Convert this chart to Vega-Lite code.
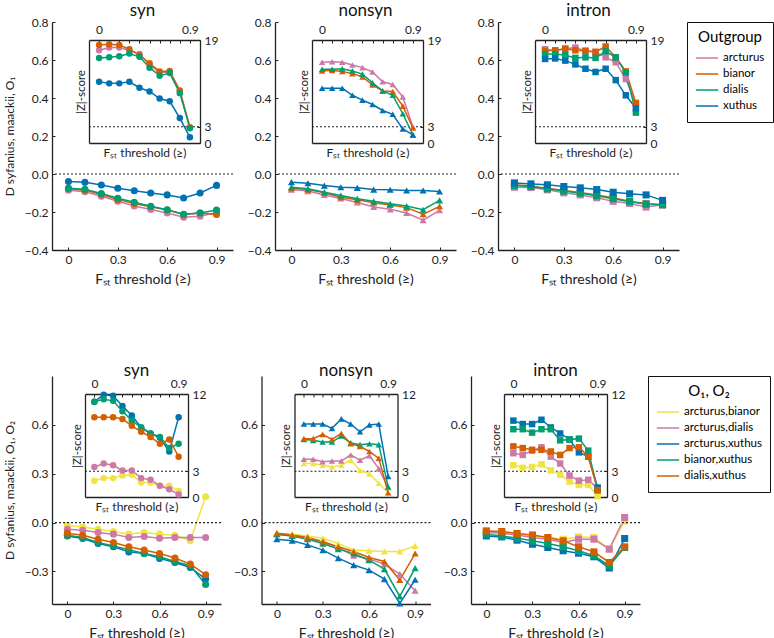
{
"$schema": "https://vega.github.io/schema/vega-lite/v6.json",
"padding": {"left": 3, "top": 2, "right": 1, "bottom": 0},
"datasets": {
"topSyn": [
{"group":"arcturus","threshold":0,"D":-0.085,"Z":17.1},{"group":"arcturus","threshold":0.1,"D":-0.093,"Z":17.6},{"group":"arcturus","threshold":0.2,"D":-0.117,"Z":17.6},{"group":"arcturus","threshold":0.3,"D":-0.143,"Z":17.1},{"group":"arcturus","threshold":0.4,"D":-0.168,"Z":16.4},{"group":"arcturus","threshold":0.5,"D":-0.187,"Z":14.5},{"group":"arcturus","threshold":0.6,"D":-0.205,"Z":13.0},{"group":"arcturus","threshold":0.7,"D":-0.228,"Z":13.1},{"group":"arcturus","threshold":0.8,"D":-0.222,"Z":9.6},{"group":"arcturus","threshold":0.9,"D":-0.203,"Z":2.8},
{"group":"bianor","threshold":0,"D":-0.077,"Z":18.1},{"group":"bianor","threshold":0.1,"D":-0.085,"Z":18.2},{"group":"bianor","threshold":0.2,"D":-0.108,"Z":18.1},{"group":"bianor","threshold":0.3,"D":-0.135,"Z":17.3},{"group":"bianor","threshold":0.4,"D":-0.155,"Z":16.2},{"group":"bianor","threshold":0.5,"D":-0.172,"Z":14.7},{"group":"bianor","threshold":0.6,"D":-0.19,"Z":13.2},{"group":"bianor","threshold":0.7,"D":-0.213,"Z":13.3},{"group":"bianor","threshold":0.8,"D":-0.205,"Z":9.7},{"group":"bianor","threshold":0.9,"D":-0.213,"Z":2.9},
{"group":"dialis","threshold":0,"D":-0.075,"Z":15.7},{"group":"dialis","threshold":0.1,"D":-0.08,"Z":15.8},{"group":"dialis","threshold":0.2,"D":-0.103,"Z":16.0},{"group":"dialis","threshold":0.3,"D":-0.128,"Z":16.5},{"group":"dialis","threshold":0.4,"D":-0.149,"Z":15.9},{"group":"dialis","threshold":0.5,"D":-0.17,"Z":13.9},{"group":"dialis","threshold":0.6,"D":-0.188,"Z":12.4},{"group":"dialis","threshold":0.7,"D":-0.212,"Z":12.9},{"group":"dialis","threshold":0.8,"D":-0.205,"Z":9.2},{"group":"dialis","threshold":0.9,"D":-0.19,"Z":2.7},
{"group":"xuthus","threshold":0,"D":-0.04,"Z":11.3},{"group":"xuthus","threshold":0.1,"D":-0.044,"Z":11.0},{"group":"xuthus","threshold":0.2,"D":-0.058,"Z":11.0},{"group":"xuthus","threshold":0.3,"D":-0.075,"Z":11.3},{"group":"xuthus","threshold":0.4,"D":-0.088,"Z":10.2},{"group":"xuthus","threshold":0.5,"D":-0.1,"Z":9.5},{"group":"xuthus","threshold":0.6,"D":-0.11,"Z":8.2},{"group":"xuthus","threshold":0.7,"D":-0.126,"Z":7.7},{"group":"xuthus","threshold":0.8,"D":-0.1,"Z":4.6},{"group":"xuthus","threshold":0.9,"D":-0.06,"Z":1.05}
],
"topNonsyn": [
{"group":"arcturus","threshold":0,"D":-0.082,"Z":14.9},{"group":"arcturus","threshold":0.1,"D":-0.09,"Z":15.0},{"group":"arcturus","threshold":0.2,"D":-0.11,"Z":14.9},{"group":"arcturus","threshold":0.3,"D":-0.129,"Z":14.4},{"group":"arcturus","threshold":0.4,"D":-0.15,"Z":13.9},{"group":"arcturus","threshold":0.5,"D":-0.174,"Z":13.1},{"group":"arcturus","threshold":0.6,"D":-0.186,"Z":11.3},{"group":"arcturus","threshold":0.7,"D":-0.205,"Z":10.8},{"group":"arcturus","threshold":0.8,"D":-0.243,"Z":8.5},{"group":"arcturus","threshold":0.9,"D":-0.191,"Z":3.0},
{"group":"bianor","threshold":0,"D":-0.075,"Z":13.3},{"group":"bianor","threshold":0.1,"D":-0.082,"Z":13.4},{"group":"bianor","threshold":0.2,"D":-0.099,"Z":13.2},{"group":"bianor","threshold":0.3,"D":-0.122,"Z":12.8},{"group":"bianor","threshold":0.4,"D":-0.136,"Z":12.2},{"group":"bianor","threshold":0.5,"D":-0.151,"Z":10.7},{"group":"bianor","threshold":0.6,"D":-0.163,"Z":9.6},{"group":"bianor","threshold":0.7,"D":-0.177,"Z":9.5},{"group":"bianor","threshold":0.8,"D":-0.212,"Z":6.8},{"group":"bianor","threshold":0.9,"D":-0.17,"Z":2.8},
{"group":"dialis","threshold":0,"D":-0.07,"Z":13.6},{"group":"dialis","threshold":0.1,"D":-0.078,"Z":13.6},{"group":"dialis","threshold":0.2,"D":-0.096,"Z":13.7},{"group":"dialis","threshold":0.3,"D":-0.113,"Z":13.3},{"group":"dialis","threshold":0.4,"D":-0.13,"Z":12.7},{"group":"dialis","threshold":0.5,"D":-0.144,"Z":11.1},{"group":"dialis","threshold":0.6,"D":-0.157,"Z":9.6},{"group":"dialis","threshold":0.7,"D":-0.169,"Z":8.8},{"group":"dialis","threshold":0.8,"D":-0.188,"Z":5.4},{"group":"dialis","threshold":0.9,"D":-0.139,"Z":1.5},
{"group":"xuthus","threshold":0,"D":-0.043,"Z":10.1},{"group":"xuthus","threshold":0.1,"D":-0.049,"Z":10.1},{"group":"xuthus","threshold":0.2,"D":-0.061,"Z":10.1},{"group":"xuthus","threshold":0.3,"D":-0.07,"Z":8.8},{"group":"xuthus","threshold":0.4,"D":-0.073,"Z":7.9},{"group":"xuthus","threshold":0.5,"D":-0.082,"Z":7.1},{"group":"xuthus","threshold":0.6,"D":-0.083,"Z":6.0},{"group":"xuthus","threshold":0.7,"D":-0.087,"Z":5.3},{"group":"xuthus","threshold":0.8,"D":-0.087,"Z":2.6},{"group":"xuthus","threshold":0.9,"D":-0.092,"Z":1.5}
],
"topIntron": [
{"group":"arcturus","threshold":0,"D":-0.07,"Z":17.3},{"group":"arcturus","threshold":0.1,"D":-0.071,"Z":17.0},{"group":"arcturus","threshold":0.2,"D":-0.083,"Z":17.4},{"group":"arcturus","threshold":0.3,"D":-0.099,"Z":17.6},{"group":"arcturus","threshold":0.4,"D":-0.11,"Z":17.0},{"group":"arcturus","threshold":0.5,"D":-0.125,"Z":16.8},{"group":"arcturus","threshold":0.6,"D":-0.144,"Z":15.8},{"group":"arcturus","threshold":0.7,"D":-0.155,"Z":14.9},{"group":"arcturus","threshold":0.8,"D":-0.174,"Z":11.8},{"group":"arcturus","threshold":0.9,"D":-0.162,"Z":7.1},
{"group":"bianor","threshold":0,"D":-0.057,"Z":17.0},{"group":"bianor","threshold":0.1,"D":-0.064,"Z":17.1},{"group":"bianor","threshold":0.2,"D":-0.075,"Z":17.4},{"group":"bianor","threshold":0.3,"D":-0.087,"Z":17.1},{"group":"bianor","threshold":0.4,"D":-0.097,"Z":17.0},{"group":"bianor","threshold":0.5,"D":-0.111,"Z":16.8},{"group":"bianor","threshold":0.6,"D":-0.125,"Z":17.8},{"group":"bianor","threshold":0.7,"D":-0.143,"Z":15.8},{"group":"bianor","threshold":0.8,"D":-0.157,"Z":13.2},{"group":"bianor","threshold":0.9,"D":-0.162,"Z":7.4},
{"group":"dialis","threshold":0,"D":-0.061,"Z":16.4},{"group":"dialis","threshold":0.1,"D":-0.066,"Z":16.4},{"group":"dialis","threshold":0.2,"D":-0.078,"Z":16.2},{"group":"dialis","threshold":0.3,"D":-0.09,"Z":15.7},{"group":"dialis","threshold":0.4,"D":-0.101,"Z":15.8},{"group":"dialis","threshold":0.5,"D":-0.115,"Z":15.7},{"group":"dialis","threshold":0.6,"D":-0.13,"Z":16.9},{"group":"dialis","threshold":0.7,"D":-0.146,"Z":15.8},{"group":"dialis","threshold":0.8,"D":-0.158,"Z":13.0},{"group":"dialis","threshold":0.9,"D":-0.162,"Z":5.6},
{"group":"xuthus","threshold":0,"D":-0.047,"Z":15.5},{"group":"xuthus","threshold":0.1,"D":-0.052,"Z":15.6},{"group":"xuthus","threshold":0.2,"D":-0.057,"Z":15.2},{"group":"xuthus","threshold":0.3,"D":-0.066,"Z":14.5},{"group":"xuthus","threshold":0.4,"D":-0.073,"Z":13.7},{"group":"xuthus","threshold":0.5,"D":-0.082,"Z":13.1},{"group":"xuthus","threshold":0.6,"D":-0.096,"Z":13.7},{"group":"xuthus","threshold":0.7,"D":-0.104,"Z":11.6},{"group":"xuthus","threshold":0.8,"D":-0.11,"Z":8.8},{"group":"xuthus","threshold":0.9,"D":-0.139,"Z":6.4}
],
"botSyn": [
{"group":"arcturus,bianor","threshold":0,"D":-0.016,"Z":1.9},{"group":"arcturus,bianor","threshold":0.1,"D":-0.027,"Z":2.2},{"group":"arcturus,bianor","threshold":0.2,"D":-0.041,"Z":2.2},{"group":"arcturus,bianor","threshold":0.3,"D":-0.055,"Z":2.5},{"group":"arcturus,bianor","threshold":0.4,"D":-0.071,"Z":2.6},{"group":"arcturus,bianor","threshold":0.5,"D":-0.061,"Z":1.7},{"group":"arcturus,bianor","threshold":0.6,"D":-0.071,"Z":1.7},{"group":"arcturus,bianor","threshold":0.7,"D":-0.078,"Z":1.3},{"group":"arcturus,bianor","threshold":0.8,"D":-0.112,"Z":1.3},{"group":"arcturus,bianor","threshold":0.9,"D":0.159,"Z":0.7},
{"group":"arcturus,dialis","threshold":0,"D":-0.041,"Z":3.5},{"group":"arcturus,dialis","threshold":0.1,"D":-0.047,"Z":3.9},{"group":"arcturus,dialis","threshold":0.2,"D":-0.061,"Z":3.7},{"group":"arcturus,dialis","threshold":0.3,"D":-0.071,"Z":3.1},{"group":"arcturus,dialis","threshold":0.4,"D":-0.092,"Z":3.1},{"group":"arcturus,dialis","threshold":0.5,"D":-0.086,"Z":2.2},{"group":"arcturus,dialis","threshold":0.6,"D":-0.096,"Z":2.0},{"group":"arcturus,dialis","threshold":0.7,"D":-0.092,"Z":1.3},{"group":"arcturus,dialis","threshold":0.8,"D":-0.092,"Z":0.9},{"group":"arcturus,dialis","threshold":0.9,"D":-0.092,"Z":0.3},
{"group":"arcturus,xuthus","threshold":0,"D":-0.082,"Z":11.1},{"group":"arcturus,xuthus","threshold":0.1,"D":-0.098,"Z":11.9},{"group":"arcturus,xuthus","threshold":0.2,"D":-0.129,"Z":11.8},{"group":"arcturus,xuthus","threshold":0.3,"D":-0.149,"Z":10.6},{"group":"arcturus,xuthus","threshold":0.4,"D":-0.18,"Z":9.5},{"group":"arcturus,xuthus","threshold":0.5,"D":-0.19,"Z":8.1},{"group":"arcturus,xuthus","threshold":0.6,"D":-0.22,"Z":7.4},{"group":"arcturus,xuthus","threshold":0.7,"D":-0.245,"Z":6.9},{"group":"arcturus,xuthus","threshold":0.8,"D":-0.276,"Z":5.3},{"group":"arcturus,xuthus","threshold":0.9,"D":-0.347,"Z":9.3},
{"group":"bianor,xuthus","threshold":0,"D":-0.078,"Z":11.1},{"group":"bianor,xuthus","threshold":0.1,"D":-0.092,"Z":11.4},{"group":"bianor,xuthus","threshold":0.2,"D":-0.122,"Z":11.2},{"group":"bianor,xuthus","threshold":0.3,"D":-0.143,"Z":10.0},{"group":"bianor,xuthus","threshold":0.4,"D":-0.167,"Z":8.9},{"group":"bianor,xuthus","threshold":0.5,"D":-0.19,"Z":8.1},{"group":"bianor,xuthus","threshold":0.6,"D":-0.21,"Z":7.4},{"group":"bianor,xuthus","threshold":0.7,"D":-0.239,"Z":7.0},{"group":"bianor,xuthus","threshold":0.8,"D":-0.265,"Z":5.7},{"group":"bianor,xuthus","threshold":0.9,"D":-0.38,"Z":6.2},
{"group":"dialis,xuthus","threshold":0,"D":-0.065,"Z":9.3},{"group":"dialis,xuthus","threshold":0.1,"D":-0.078,"Z":9.3},{"group":"dialis,xuthus","threshold":0.2,"D":-0.102,"Z":9.3},{"group":"dialis,xuthus","threshold":0.3,"D":-0.122,"Z":9.1},{"group":"dialis,xuthus","threshold":0.4,"D":-0.149,"Z":8.3},{"group":"dialis,xuthus","threshold":0.5,"D":-0.169,"Z":7.6},{"group":"dialis,xuthus","threshold":0.6,"D":-0.19,"Z":7.0},{"group":"dialis,xuthus","threshold":0.7,"D":-0.218,"Z":6.2},{"group":"dialis,xuthus","threshold":0.8,"D":-0.255,"Z":6.7},{"group":"dialis,xuthus","threshold":0.9,"D":-0.32,"Z":4.7}
],
"botNonsyn": [
{"group":"arcturus,bianor","threshold":0,"D":-0.065,"Z":3.9},{"group":"arcturus,bianor","threshold":0.1,"D":-0.071,"Z":3.9},{"group":"arcturus,bianor","threshold":0.2,"D":-0.082,"Z":3.7},{"group":"arcturus,bianor","threshold":0.3,"D":-0.096,"Z":3.5},{"group":"arcturus,bianor","threshold":0.4,"D":-0.129,"Z":3.7},{"group":"arcturus,bianor","threshold":0.5,"D":-0.169,"Z":4.3},{"group":"arcturus,bianor","threshold":0.6,"D":-0.173,"Z":3.1},{"group":"arcturus,bianor","threshold":0.7,"D":-0.178,"Z":2.7},{"group":"arcturus,bianor","threshold":0.8,"D":-0.178,"Z":1.6},{"group":"arcturus,bianor","threshold":0.9,"D":-0.143,"Z":0.5},
{"group":"arcturus,dialis","threshold":0,"D":-0.071,"Z":4.4},{"group":"arcturus,dialis","threshold":0.1,"D":-0.082,"Z":4.4},{"group":"arcturus,dialis","threshold":0.2,"D":-0.096,"Z":4.1},{"group":"arcturus,dialis","threshold":0.3,"D":-0.122,"Z":4.2},{"group":"arcturus,dialis","threshold":0.4,"D":-0.153,"Z":4.2},{"group":"arcturus,dialis","threshold":0.5,"D":-0.204,"Z":4.9},{"group":"arcturus,dialis","threshold":0.6,"D":-0.224,"Z":4.3},{"group":"arcturus,dialis","threshold":0.7,"D":-0.255,"Z":4.8},{"group":"arcturus,dialis","threshold":0.8,"D":-0.316,"Z":3.3},{"group":"arcturus,dialis","threshold":0.9,"D":-0.418,"Z":1.1},
{"group":"arcturus,xuthus","threshold":0,"D":-0.102,"Z":8.5},{"group":"arcturus,xuthus","threshold":0.1,"D":-0.112,"Z":8.5},{"group":"arcturus,xuthus","threshold":0.2,"D":-0.137,"Z":8.5},{"group":"arcturus,xuthus","threshold":0.3,"D":-0.169,"Z":8.0},{"group":"arcturus,xuthus","threshold":0.4,"D":-0.218,"Z":9.1},{"group":"arcturus,xuthus","threshold":0.5,"D":-0.261,"Z":8.5},{"group":"arcturus,xuthus","threshold":0.6,"D":-0.292,"Z":7.6},{"group":"arcturus,xuthus","threshold":0.7,"D":-0.347,"Z":8.4},{"group":"arcturus,xuthus","threshold":0.8,"D":-0.496,"Z":8.5},{"group":"arcturus,xuthus","threshold":0.9,"D":-0.351,"Z":2.4},
{"group":"bianor,xuthus","threshold":0,"D":-0.071,"Z":6.7},{"group":"bianor,xuthus","threshold":0.1,"D":-0.082,"Z":6.6},{"group":"bianor,xuthus","threshold":0.2,"D":-0.102,"Z":6.4},{"group":"bianor,xuthus","threshold":0.3,"D":-0.129,"Z":6.4},{"group":"bianor,xuthus","threshold":0.4,"D":-0.163,"Z":7.1},{"group":"bianor,xuthus","threshold":0.5,"D":-0.19,"Z":6.3},{"group":"bianor,xuthus","threshold":0.6,"D":-0.231,"Z":6.1},{"group":"bianor,xuthus","threshold":0.7,"D":-0.286,"Z":6.2},{"group":"bianor,xuthus","threshold":0.8,"D":-0.453,"Z":6.1},{"group":"bianor,xuthus","threshold":0.9,"D":-0.28,"Z":1.2},
{"group":"dialis,xuthus","threshold":0,"D":-0.065,"Z":6.8},{"group":"dialis,xuthus","threshold":0.1,"D":-0.076,"Z":6.8},{"group":"dialis,xuthus","threshold":0.2,"D":-0.092,"Z":7.3},{"group":"dialis,xuthus","threshold":0.3,"D":-0.116,"Z":6.7},{"group":"dialis,xuthus","threshold":0.4,"D":-0.149,"Z":7.4},{"group":"dialis,xuthus","threshold":0.5,"D":-0.178,"Z":6.2},{"group":"dialis,xuthus","threshold":0.6,"D":-0.214,"Z":5.9},{"group":"dialis,xuthus","threshold":0.7,"D":-0.239,"Z":5.3},{"group":"dialis,xuthus","threshold":0.8,"D":-0.353,"Z":4.5},{"group":"dialis,xuthus","threshold":0.9,"D":-0.19,"Z":0.5}
],
"botIntron": [
{"group":"arcturus,bianor","threshold":0,"D":-0.055,"Z":3.7},{"group":"arcturus,bianor","threshold":0.1,"D":-0.057,"Z":3.4},{"group":"arcturus,bianor","threshold":0.2,"D":-0.067,"Z":3.5},{"group":"arcturus,bianor","threshold":0.3,"D":-0.082,"Z":3.8},{"group":"arcturus,bianor","threshold":0.4,"D":-0.092,"Z":3.1},{"group":"arcturus,bianor","threshold":0.5,"D":-0.102,"Z":2.6},{"group":"arcturus,bianor","threshold":0.6,"D":-0.088,"Z":1.8},{"group":"arcturus,bianor","threshold":0.7,"D":-0.092,"Z":1.4},{"group":"arcturus,bianor","threshold":0.8,"D":-0.163,"Z":1.4},{"group":"arcturus,bianor","threshold":0.9,"D":0.01,"Z":0.1},
{"group":"arcturus,dialis","threshold":0,"D":-0.061,"Z":5.1},{"group":"arcturus,dialis","threshold":0.1,"D":-0.065,"Z":4.9},{"group":"arcturus,dialis","threshold":0.2,"D":-0.076,"Z":5.4},{"group":"arcturus,dialis","threshold":0.3,"D":-0.092,"Z":5.8},{"group":"arcturus,dialis","threshold":0.4,"D":-0.102,"Z":4.7},{"group":"arcturus,dialis","threshold":0.5,"D":-0.122,"Z":3.9},{"group":"arcturus,dialis","threshold":0.6,"D":-0.102,"Z":2.5},{"group":"arcturus,dialis","threshold":0.7,"D":-0.102,"Z":1.9},{"group":"arcturus,dialis","threshold":0.8,"D":-0.163,"Z":2.0},{"group":"arcturus,dialis","threshold":0.9,"D":0.031,"Z":1.0},
{"group":"arcturus,xuthus","threshold":0,"D":-0.082,"Z":8.9},{"group":"arcturus,xuthus","threshold":0.1,"D":-0.088,"Z":8.5},{"group":"arcturus,xuthus","threshold":0.2,"D":-0.108,"Z":8.5},{"group":"arcturus,xuthus","threshold":0.3,"D":-0.133,"Z":9.0},{"group":"arcturus,xuthus","threshold":0.4,"D":-0.153,"Z":8.1},{"group":"arcturus,xuthus","threshold":0.5,"D":-0.173,"Z":7.4},{"group":"arcturus,xuthus","threshold":0.6,"D":-0.188,"Z":6.7},{"group":"arcturus,xuthus","threshold":0.7,"D":-0.21,"Z":5.2},{"group":"arcturus,xuthus","threshold":0.8,"D":-0.279,"Z":4.7},{"group":"arcturus,xuthus","threshold":0.9,"D":-0.098,"Z":1.1},
{"group":"bianor,xuthus","threshold":0,"D":-0.071,"Z":7.9},{"group":"bianor,xuthus","threshold":0.1,"D":-0.082,"Z":7.9},{"group":"bianor,xuthus","threshold":0.2,"D":-0.096,"Z":7.5},{"group":"bianor,xuthus","threshold":0.3,"D":-0.112,"Z":7.9},{"group":"bianor,xuthus","threshold":0.4,"D":-0.129,"Z":7.9},{"group":"bianor,xuthus","threshold":0.5,"D":-0.149,"Z":6.6},{"group":"bianor,xuthus","threshold":0.6,"D":-0.173,"Z":6.7},{"group":"bianor,xuthus","threshold":0.7,"D":-0.204,"Z":6.8},{"group":"bianor,xuthus","threshold":0.8,"D":-0.265,"Z":5.4},{"group":"bianor,xuthus","threshold":0.9,"D":-0.153,"Z":0.8},
{"group":"dialis,xuthus","threshold":0,"D":-0.051,"Z":5.9},{"group":"dialis,xuthus","threshold":0.1,"D":-0.055,"Z":5.7},{"group":"dialis,xuthus","threshold":0.2,"D":-0.067,"Z":5.5},{"group":"dialis,xuthus","threshold":0.3,"D":-0.076,"Z":5.5},{"group":"dialis,xuthus","threshold":0.4,"D":-0.092,"Z":5.3},{"group":"dialis,xuthus","threshold":0.5,"D":-0.112,"Z":4.9},{"group":"dialis,xuthus","threshold":0.6,"D":-0.149,"Z":5.7},{"group":"dialis,xuthus","threshold":0.7,"D":-0.18,"Z":5.8},{"group":"dialis,xuthus","threshold":0.8,"D":-0.245,"Z":4.7},{"group":"dialis,xuthus","threshold":0.9,"D":-0.149,"Z":0.8}
]
},
"vconcat": [
{"hconcat": [
{"width": 181, "height": 228, "title": "syn", "data": {"name": "topSyn"},
 "layer": [
  {"layer": [
   {"mark": {"type": "line", "strokeWidth": 1.5}, "encoding": {
     "x": {"field": "threshold", "type": "quantitative", "scale": {"domain": [-0.1, 1.0], "nice": false, "zero": false}, "axis": {"values": [0, 0.3, 0.6, 0.9], "labelOverlap": false, "format": "~g", "title": "Fₛₜ  threshold (≥)"}},
     "y": {"field": "D", "type": "quantitative", "scale": {"domain": [-0.4, 0.8], "nice": false, "zero": false}, "axis": {"values": [-0.4, -0.2, 0, 0.2, 0.4, 0.6, 0.8], "labelOverlap": false, "tickCount": 7, "format": ".1f", "title": "D syfanius, maackii, O₁", "titleFontSize": 12}},
     "color": {"field": "group", "type": "nominal", "scale": {"domain": ["arcturus", "bianor", "dialis", "xuthus"], "range": ["#CC79A7", "#D55E00", "#009E73", "#0072B2"]}, "legend": {"title": "Outgroup"}}}},
   {"mark": {"type": "point", "filled": true, "opacity": 1, "shape": "circle", "size": 50}, "encoding": {
     "x": {"field": "threshold", "type": "quantitative"}, "y": {"field": "D", "type": "quantitative"},
     "color": {"field": "group", "type": "nominal", "legend": {"title": "Outgroup"}}}},
   {"data": {"values": [{}]}, "mark": {"type": "rule", "color": "#222", "strokeDash": [2, 2], "strokeWidth": 1.2}, "encoding": {"y": {"datum": 0}}}
  ]},
  {"layer": [
   {"data": {"values": [{}]}, "mark": {"type": "rule", "color": "#222", "strokeDash": [2, 2], "strokeWidth": 1.2}, "encoding": {
     "x": {"datum": -0.1, "type": "quantitative", "scale": {"domain": [-0.1, 1.0], "range": [37, 148], "nice": false, "zero": false}, "axis": {"orient": "bottom", "offset": -107, "labels": false, "ticks": false, "title": "Fₛₜ  threshold (≥)", "titleFontSize": 12, "titlePadding": 4}},
     "x2": {"datum": 1.0},
     "y": {"datum": 3, "type": "quantitative", "scale": {"domain": [0, 19], "range": [121, 18], "nice": false, "zero": false}, "axis": {"orient": "left", "offset": -37, "labels": false, "ticks": false, "title": "|Z|-score", "titleFontSize": 11.5, "titlePadding": 3}}}},
   {"mark": {"type": "line", "strokeWidth": 1.5}, "encoding": {
     "x": {"field": "threshold", "type": "quantitative", "axis": {"orient": "top", "offset": -18, "values": [0, 0.1, 0.2, 0.3, 0.4, 0.5, 0.6, 0.7, 0.8, 0.9], "labelOverlap": false, "labelExpr": "datum.value == 0 || datum.value == 0.9 ? datum.label : ''", "format": "~g", "title": null}},
     "y": {"field": "Z", "type": "quantitative", "axis": {"orient": "right", "offset": -33, "values": [0, 3, 19], "labelOverlap": false, "title": null}},
     "color": {"field": "group", "type": "nominal", "legend": {"title": "Outgroup"}}}},
   {"mark": {"type": "point", "filled": true, "opacity": 1, "shape": "circle", "size": 42}, "encoding": {
     "x": {"field": "threshold", "type": "quantitative", "axis": null}, "y": {"field": "Z", "type": "quantitative", "axis": null},
     "color": {"field": "group", "type": "nominal", "legend": {"title": "Outgroup"}}}}
  ], "resolve": {"axis": {"x": "independent", "y": "independent"}}}
 ],
 "resolve": {"scale": {"x": "independent", "y": "independent"}}},
{"width": 181, "height": 228, "title": "nonsyn", "data": {"name": "topNonsyn"},
 "layer": [
  {"layer": [
   {"mark": {"type": "line", "strokeWidth": 1.5}, "encoding": {
     "x": {"field": "threshold", "type": "quantitative", "scale": {"domain": [-0.1, 1.0], "nice": false, "zero": false}, "axis": {"values": [0, 0.3, 0.6, 0.9], "labelOverlap": false, "format": "~g", "title": "Fₛₜ  threshold (≥)"}},
     "y": {"field": "D", "type": "quantitative", "scale": {"domain": [-0.4, 0.8], "nice": false, "zero": false}, "axis": {"values": [-0.4, -0.2, 0, 0.2, 0.4, 0.6, 0.8], "labelOverlap": false, "tickCount": 7, "format": ".1f", "title": null}},
     "color": {"field": "group", "type": "nominal", "legend": {"title": "Outgroup"}}}},
   {"mark": {"type": "point", "filled": true, "opacity": 1, "shape": "triangle-up", "size": 50}, "encoding": {
     "x": {"field": "threshold", "type": "quantitative"}, "y": {"field": "D", "type": "quantitative"},
     "color": {"field": "group", "type": "nominal", "legend": {"title": "Outgroup"}}}},
   {"data": {"values": [{}]}, "mark": {"type": "rule", "color": "#222", "strokeDash": [2, 2], "strokeWidth": 1.2}, "encoding": {"y": {"datum": 0}}}
  ]},
  {"layer": [
   {"data": {"values": [{}]}, "mark": {"type": "rule", "color": "#222", "strokeDash": [2, 2], "strokeWidth": 1.2}, "encoding": {
     "x": {"datum": -0.1, "type": "quantitative", "scale": {"domain": [-0.1, 1.0], "range": [37, 148], "nice": false, "zero": false}, "axis": {"orient": "bottom", "offset": -107, "labels": false, "ticks": false, "title": "Fₛₜ  threshold (≥)", "titleFontSize": 12, "titlePadding": 4}},
     "x2": {"datum": 1.0},
     "y": {"datum": 3, "type": "quantitative", "scale": {"domain": [0, 19], "range": [121, 18], "nice": false, "zero": false}, "axis": {"orient": "left", "offset": -37, "labels": false, "ticks": false, "title": "|Z|-score", "titleFontSize": 11.5, "titlePadding": 3}}}},
   {"mark": {"type": "line", "strokeWidth": 1.5}, "encoding": {
     "x": {"field": "threshold", "type": "quantitative", "axis": {"orient": "top", "offset": -18, "values": [0, 0.1, 0.2, 0.3, 0.4, 0.5, 0.6, 0.7, 0.8, 0.9], "labelOverlap": false, "labelExpr": "datum.value == 0 || datum.value == 0.9 ? datum.label : ''", "format": "~g", "title": null}},
     "y": {"field": "Z", "type": "quantitative", "axis": {"orient": "right", "offset": -33, "values": [0, 3, 19], "labelOverlap": false, "title": null}},
     "color": {"field": "group", "type": "nominal", "legend": {"title": "Outgroup"}}}},
   {"mark": {"type": "point", "filled": true, "opacity": 1, "shape": "triangle-up", "size": 42}, "encoding": {
     "x": {"field": "threshold", "type": "quantitative", "axis": null}, "y": {"field": "Z", "type": "quantitative", "axis": null},
     "color": {"field": "group", "type": "nominal", "legend": {"title": "Outgroup"}}}}
  ], "resolve": {"axis": {"x": "independent", "y": "independent"}}}
 ],
 "resolve": {"scale": {"x": "independent", "y": "independent"}}},
{"width": 181, "height": 228, "title": "intron", "data": {"name": "topIntron"},
 "layer": [
  {"layer": [
   {"mark": {"type": "line", "strokeWidth": 1.5}, "encoding": {
     "x": {"field": "threshold", "type": "quantitative", "scale": {"domain": [-0.1, 1.0], "nice": false, "zero": false}, "axis": {"values": [0, 0.3, 0.6, 0.9], "labelOverlap": false, "format": "~g", "title": "Fₛₜ  threshold (≥)"}},
     "y": {"field": "D", "type": "quantitative", "scale": {"domain": [-0.4, 0.8], "nice": false, "zero": false}, "axis": {"values": [-0.4, -0.2, 0, 0.2, 0.4, 0.6, 0.8], "labelOverlap": false, "tickCount": 7, "format": ".1f", "title": null}},
     "color": {"field": "group", "type": "nominal", "legend": {"title": "Outgroup"}}}},
   {"mark": {"type": "point", "filled": true, "opacity": 1, "shape": "square", "size": 50}, "encoding": {
     "x": {"field": "threshold", "type": "quantitative"}, "y": {"field": "D", "type": "quantitative"},
     "color": {"field": "group", "type": "nominal", "legend": {"title": "Outgroup"}}}},
   {"data": {"values": [{}]}, "mark": {"type": "rule", "color": "#222", "strokeDash": [2, 2], "strokeWidth": 1.2}, "encoding": {"y": {"datum": 0}}}
  ]},
  {"layer": [
   {"data": {"values": [{}]}, "mark": {"type": "rule", "color": "#222", "strokeDash": [2, 2], "strokeWidth": 1.2}, "encoding": {
     "x": {"datum": -0.1, "type": "quantitative", "scale": {"domain": [-0.1, 1.0], "range": [37, 148], "nice": false, "zero": false}, "axis": {"orient": "bottom", "offset": -107, "labels": false, "ticks": false, "title": "Fₛₜ  threshold (≥)", "titleFontSize": 12, "titlePadding": 4}},
     "x2": {"datum": 1.0},
     "y": {"datum": 3, "type": "quantitative", "scale": {"domain": [0, 19], "range": [121, 18], "nice": false, "zero": false}, "axis": {"orient": "left", "offset": -37, "labels": false, "ticks": false, "title": "|Z|-score", "titleFontSize": 11.5, "titlePadding": 3}}}},
   {"mark": {"type": "line", "strokeWidth": 1.5}, "encoding": {
     "x": {"field": "threshold", "type": "quantitative", "axis": {"orient": "top", "offset": -18, "values": [0, 0.1, 0.2, 0.3, 0.4, 0.5, 0.6, 0.7, 0.8, 0.9], "labelOverlap": false, "labelExpr": "datum.value == 0 || datum.value == 0.9 ? datum.label : ''", "format": "~g", "title": null}},
     "y": {"field": "Z", "type": "quantitative", "axis": {"orient": "right", "offset": -33, "values": [0, 3, 19], "labelOverlap": false, "title": null}},
     "color": {"field": "group", "type": "nominal", "legend": {"title": "Outgroup"}}}},
   {"mark": {"type": "point", "filled": true, "opacity": 1, "shape": "square", "size": 42}, "encoding": {
     "x": {"field": "threshold", "type": "quantitative", "axis": null}, "y": {"field": "Z", "type": "quantitative", "axis": null},
     "color": {"field": "group", "type": "nominal", "legend": {"title": "Outgroup"}}}}
  ], "resolve": {"axis": {"x": "independent", "y": "independent"}}}
 ],
 "resolve": {"scale": {"x": "independent", "y": "independent"}}}
], "spacing": 42, "bounds": "flush"},
{"hconcat": [
{"width": 169, "height": 228, "title": "syn", "data": {"name": "botSyn"},
 "layer": [
  {"layer": [
   {"mark": {"type": "line", "strokeWidth": 1.5}, "encoding": {
     "x": {"field": "threshold", "type": "quantitative", "scale": {"domain": [-0.1, 1.0], "nice": false, "zero": false}, "axis": {"values": [0, 0.3, 0.6, 0.9], "labelOverlap": false, "format": "~g", "title": "Fₛₜ  threshold (≥)"}},
     "y": {"field": "D", "type": "quantitative", "scale": {"domain": [-0.5, 0.9], "nice": false, "zero": false}, "axis": {"values": [-0.3, 0, 0.3, 0.6], "labelOverlap": false, "format": ".1f", "title": "D syfanius, maackii, O₁, O₂", "titleFontSize": 12}},
     "color": {"field": "group", "type": "nominal", "scale": {"domain": ["arcturus,bianor", "arcturus,dialis", "arcturus,xuthus", "bianor,xuthus", "dialis,xuthus"], "range": ["#F0E442", "#CC79A7", "#0072B2", "#009E73", "#D55E00"]}, "legend": {"title": "O₁, O₂"}}}},
   {"mark": {"type": "point", "filled": true, "opacity": 1, "shape": "circle", "size": 50}, "encoding": {
     "x": {"field": "threshold", "type": "quantitative"}, "y": {"field": "D", "type": "quantitative"},
     "color": {"field": "group", "type": "nominal", "legend": {"title": "O₁, O₂"}}}},
   {"data": {"values": [{}]}, "mark": {"type": "rule", "color": "#222", "strokeDash": [2, 2], "strokeWidth": 1.2}, "encoding": {"y": {"datum": 0}}}
  ]},
  {"layer": [
   {"data": {"values": [{}]}, "mark": {"type": "rule", "color": "#222", "strokeDash": [2, 2], "strokeWidth": 1.2}, "encoding": {
     "x": {"datum": -0.1, "type": "quantitative", "scale": {"domain": [-0.1, 1.0], "range": [33, 136], "nice": false, "zero": false}, "axis": {"orient": "bottom", "offset": -107, "labels": false, "ticks": false, "title": "Fₛₜ  threshold (≥)", "titleFontSize": 12, "titlePadding": 4}},
     "x2": {"datum": 1.0},
     "y": {"datum": 3, "type": "quantitative", "scale": {"domain": [0, 12], "range": [121, 18], "nice": false, "zero": false}, "axis": {"orient": "left", "offset": -33, "labels": false, "ticks": false, "title": "|Z|-score", "titleFontSize": 11.5, "titlePadding": 3}}}},
   {"mark": {"type": "line", "strokeWidth": 1.5}, "encoding": {
     "x": {"field": "threshold", "type": "quantitative", "axis": {"orient": "top", "offset": -18, "values": [0, 0.1, 0.2, 0.3, 0.4, 0.5, 0.6, 0.7, 0.8, 0.9], "labelOverlap": false, "labelExpr": "datum.value == 0 || datum.value == 0.9 ? datum.label : ''", "format": "~g", "title": null}},
     "y": {"field": "Z", "type": "quantitative", "axis": {"orient": "right", "offset": -33, "values": [0, 3, 12], "labelOverlap": false, "title": null}},
     "color": {"field": "group", "type": "nominal", "legend": {"title": "O₁, O₂"}}}},
   {"mark": {"type": "point", "filled": true, "opacity": 1, "shape": "circle", "size": 42}, "encoding": {
     "x": {"field": "threshold", "type": "quantitative", "axis": null}, "y": {"field": "Z", "type": "quantitative", "axis": null},
     "color": {"field": "group", "type": "nominal", "legend": {"title": "O₁, O₂"}}}}
  ], "resolve": {"axis": {"x": "independent", "y": "independent"}}}
 ],
 "resolve": {"scale": {"x": "independent", "y": "independent"}}},
{"width": 169, "height": 228, "title": "nonsyn", "data": {"name": "botNonsyn"},
 "layer": [
  {"layer": [
   {"mark": {"type": "line", "strokeWidth": 1.5}, "encoding": {
     "x": {"field": "threshold", "type": "quantitative", "scale": {"domain": [-0.1, 1.0], "nice": false, "zero": false}, "axis": {"values": [0, 0.3, 0.6, 0.9], "labelOverlap": false, "format": "~g", "title": "Fₛₜ  threshold (≥)"}},
     "y": {"field": "D", "type": "quantitative", "scale": {"domain": [-0.5, 0.9], "nice": false, "zero": false}, "axis": {"values": [-0.3, 0, 0.3, 0.6], "labelOverlap": false, "format": ".1f", "title": null}},
     "color": {"field": "group", "type": "nominal", "legend": {"title": "O₁, O₂"}}}},
   {"mark": {"type": "point", "filled": true, "opacity": 1, "shape": "triangle-up", "size": 50}, "encoding": {
     "x": {"field": "threshold", "type": "quantitative"}, "y": {"field": "D", "type": "quantitative"},
     "color": {"field": "group", "type": "nominal", "legend": {"title": "O₁, O₂"}}}},
   {"data": {"values": [{}]}, "mark": {"type": "rule", "color": "#222", "strokeDash": [2, 2], "strokeWidth": 1.2}, "encoding": {"y": {"datum": 0}}}
  ]},
  {"layer": [
   {"data": {"values": [{}]}, "mark": {"type": "rule", "color": "#222", "strokeDash": [2, 2], "strokeWidth": 1.2}, "encoding": {
     "x": {"datum": -0.1, "type": "quantitative", "scale": {"domain": [-0.1, 1.0], "range": [33, 136], "nice": false, "zero": false}, "axis": {"orient": "bottom", "offset": -107, "labels": false, "ticks": false, "title": "Fₛₜ  threshold (≥)", "titleFontSize": 12, "titlePadding": 4}},
     "x2": {"datum": 1.0},
     "y": {"datum": 3, "type": "quantitative", "scale": {"domain": [0, 12], "range": [121, 18], "nice": false, "zero": false}, "axis": {"orient": "left", "offset": -33, "labels": false, "ticks": false, "title": "|Z|-score", "titleFontSize": 11.5, "titlePadding": 3}}}},
   {"mark": {"type": "line", "strokeWidth": 1.5}, "encoding": {
     "x": {"field": "threshold", "type": "quantitative", "axis": {"orient": "top", "offset": -18, "values": [0, 0.1, 0.2, 0.3, 0.4, 0.5, 0.6, 0.7, 0.8, 0.9], "labelOverlap": false, "labelExpr": "datum.value == 0 || datum.value == 0.9 ? datum.label : ''", "format": "~g", "title": null}},
     "y": {"field": "Z", "type": "quantitative", "axis": {"orient": "right", "offset": -33, "values": [0, 3, 12], "labelOverlap": false, "title": null}},
     "color": {"field": "group", "type": "nominal", "legend": {"title": "O₁, O₂"}}}},
   {"mark": {"type": "point", "filled": true, "opacity": 1, "shape": "triangle-up", "size": 42}, "encoding": {
     "x": {"field": "threshold", "type": "quantitative", "axis": null}, "y": {"field": "Z", "type": "quantitative", "axis": null},
     "color": {"field": "group", "type": "nominal", "legend": {"title": "O₁, O₂"}}}}
  ], "resolve": {"axis": {"x": "independent", "y": "independent"}}}
 ],
 "resolve": {"scale": {"x": "independent", "y": "independent"}}},
{"width": 169, "height": 228, "title": "intron", "data": {"name": "botIntron"},
 "layer": [
  {"layer": [
   {"mark": {"type": "line", "strokeWidth": 1.5}, "encoding": {
     "x": {"field": "threshold", "type": "quantitative", "scale": {"domain": [-0.1, 1.0], "nice": false, "zero": false}, "axis": {"values": [0, 0.3, 0.6, 0.9], "labelOverlap": false, "format": "~g", "title": "Fₛₜ  threshold (≥)"}},
     "y": {"field": "D", "type": "quantitative", "scale": {"domain": [-0.5, 0.9], "nice": false, "zero": false}, "axis": {"values": [-0.3, 0, 0.3, 0.6], "labelOverlap": false, "format": ".1f", "title": null}},
     "color": {"field": "group", "type": "nominal", "legend": {"title": "O₁, O₂"}}}},
   {"mark": {"type": "point", "filled": true, "opacity": 1, "shape": "square", "size": 50}, "encoding": {
     "x": {"field": "threshold", "type": "quantitative"}, "y": {"field": "D", "type": "quantitative"},
     "color": {"field": "group", "type": "nominal", "legend": {"title": "O₁, O₂"}}}},
   {"data": {"values": [{}]}, "mark": {"type": "rule", "color": "#222", "strokeDash": [2, 2], "strokeWidth": 1.2}, "encoding": {"y": {"datum": 0}}}
  ]},
  {"layer": [
   {"data": {"values": [{}]}, "mark": {"type": "rule", "color": "#222", "strokeDash": [2, 2], "strokeWidth": 1.2}, "encoding": {
     "x": {"datum": -0.1, "type": "quantitative", "scale": {"domain": [-0.1, 1.0], "range": [33, 136], "nice": false, "zero": false}, "axis": {"orient": "bottom", "offset": -107, "labels": false, "ticks": false, "title": "Fₛₜ  threshold (≥)", "titleFontSize": 12, "titlePadding": 4}},
     "x2": {"datum": 1.0},
     "y": {"datum": 3, "type": "quantitative", "scale": {"domain": [0, 12], "range": [121, 18], "nice": false, "zero": false}, "axis": {"orient": "left", "offset": -33, "labels": false, "ticks": false, "title": "|Z|-score", "titleFontSize": 11.5, "titlePadding": 3}}}},
   {"mark": {"type": "line", "strokeWidth": 1.5}, "encoding": {
     "x": {"field": "threshold", "type": "quantitative", "axis": {"orient": "top", "offset": -18, "values": [0, 0.1, 0.2, 0.3, 0.4, 0.5, 0.6, 0.7, 0.8, 0.9], "labelOverlap": false, "labelExpr": "datum.value == 0 || datum.value == 0.9 ? datum.label : ''", "format": "~g", "title": null}},
     "y": {"field": "Z", "type": "quantitative", "axis": {"orient": "right", "offset": -33, "values": [0, 3, 12], "labelOverlap": false, "title": null}},
     "color": {"field": "group", "type": "nominal", "legend": {"title": "O₁, O₂"}}}},
   {"mark": {"type": "point", "filled": true, "opacity": 1, "shape": "square", "size": 42}, "encoding": {
     "x": {"field": "threshold", "type": "quantitative", "axis": null}, "y": {"field": "Z", "type": "quantitative", "axis": null},
     "color": {"field": "group", "type": "nominal", "legend": {"title": "O₁, O₂"}}}}
  ], "resolve": {"axis": {"x": "independent", "y": "independent"}}}
 ],
 "resolve": {"scale": {"x": "independent", "y": "independent"}}}
], "spacing": 40.5, "bounds": "flush"}
],
"spacing": 75,
"bounds": "full",
"resolve": {"scale": {"color": "independent"}},
"config": {
 "font": "Lato",
 "view": {"stroke": null},
 "axis": {"grid": false, "labelOverlap": false, "domainColor": "#222", "domainWidth": 1.3, "tickColor": "#222", "tickSize": -3, "tickWidth": 1, "labelColor": "#222", "labelFontSize": 12, "labelPadding": 7, "titleColor": "#222", "titleFontSize": 14, "titleFontWeight": "normal", "titlePadding": 7.5},
 "title": {"fontSize": 17, "fontWeight": "normal", "color": "#111", "offset": -4, "frame": "group"},
 "legend": {"symbolType": "stroke", "symbolStrokeWidth": 1.5, "symbolSize": 500, "clipHeight": 16, "titleFontSize": 15, "titleFontWeight": "normal", "titleAnchor": "middle", "labelFontSize": 11.5, "strokeColor": "#111", "padding": 8, "offset": 7, "rowPadding": 0}
}
}
